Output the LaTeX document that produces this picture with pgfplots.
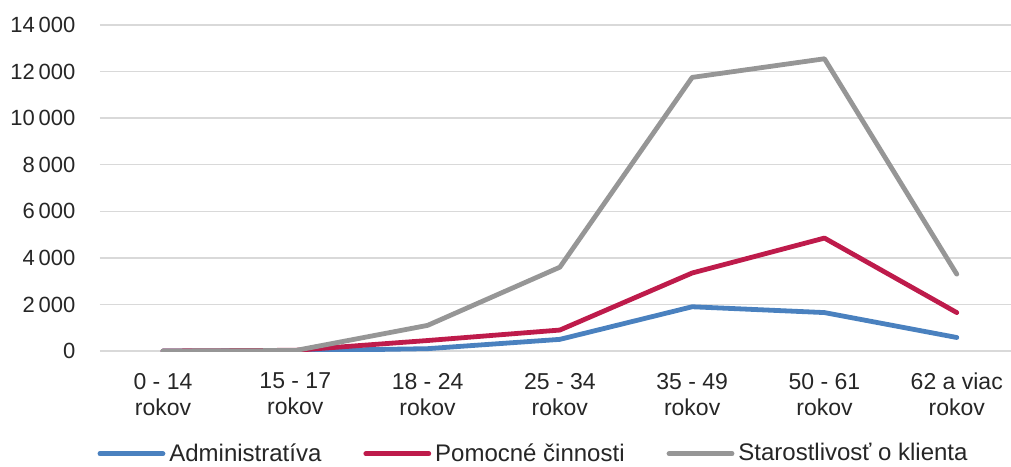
\documentclass[border=0pt]{standalone}
\usepackage{pgfplots}
\pgfplotsset{compat=1.18}
\usepackage{fontspec}
\setmainfont{Liberation Sans}
\definecolor{cblue}{HTML}{4A81BF}
\definecolor{cred}{HTML}{BE1B4B}
\definecolor{cgray}{HTML}{969696}
\definecolor{cgrid}{HTML}{D9D9D9}
\begin{document}
\begin{tikzpicture}
\useasboundingbox (-50pt,-57.5pt) rectangle (455.5pt,175.5pt);
\begin{axis}[
 scale only axis, width=455.5pt, height=163pt,
 at={(0,0)}, anchor=south west,
 xmin=-0.476, xmax=6.41, ymin=0, ymax=14000,
 axis line style={draw=none},
 ytick={0,2000,...,14000}, ymajorgrids,
 scaled y ticks=false,
 yticklabel={\pgfmathprintnumber[fixed,precision=0,1000 sep={\,},assume math mode=true]{\tick}},
 grid style={cgrid, line width=0.75pt},
 major tick length=0,
 xtick={0,...,6},
 xticklabels={{0 - 14\\rokov},{15 - 17\\rokov},{18 - 24\\rokov},{25 - 34\\rokov},{35 - 49\\rokov},{50 - 61\\rokov},{62 a viac\\rokov}},
 xticklabel style={align=center, font=\fontsize{11.5}{13}\selectfont, text=black!85, yshift=-7.5pt},
 yticklabel style={font=\fontsize{11}{13}\selectfont, text=black!85, xshift=-8.8pt},
 legend style={at={(0.477,-0.315)}, anchor=center, draw=none, font=\fontsize{12}{13}\selectfont, text=black!85,
   inner sep=1pt, /tikz/every even column/.append style={column sep=19pt}},
 legend columns=3,
 legend image code/.code={\draw[#1] (0cm,0cm) -- (31.5pt,0cm);},
 every axis plot/.append style={line width=2.4pt, line cap=round, line join=round},
]
\addplot[cblue] coordinates {(0,0) (1,10) (2,100) (3,500) (4,1900) (5,1650) (6,580)};
\addlegendentry{Administratíva}
\addplot[cred] coordinates {(0,0) (1,30) (2,450) (3,900) (4,3350) (5,4850) (6,1650)};
\addlegendentry{Pomocné činnosti}
\addplot[cgray] coordinates {(0,0) (1,20) (2,1100) (3,3600) (4,11750) (5,12550) (6,3300)};
\addlegendentry{Starostlivosť o klienta}
\end{axis}
\end{tikzpicture}
\end{document}
